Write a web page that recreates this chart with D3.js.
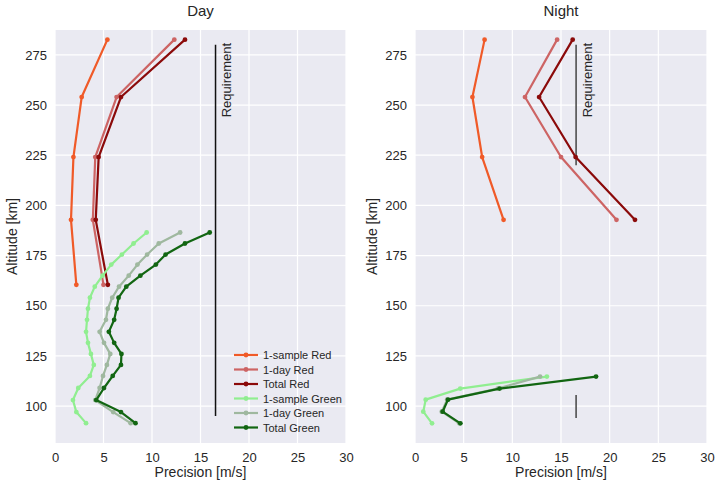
<!DOCTYPE html>
<html>
<head>
<meta charset="utf-8">
<script src="https://cdn.jsdelivr.net/npm/d3@7"></script>
<style>
  body { margin: 0; background: #ffffff; }
  svg { display: block; font-family: "Liberation Sans", Arial, sans-serif; }
</style>
</head>
<body>
<div id="chart"></div>
<script>
// ---------------- data ----------------
const panels = ["Day", "Night"];
const seriesNames = ["1-sample Red", "1-day Red", "Total Red", "1-sample Green", "1-day Green", "Total Green"];
const seriesColors = ["#f05a28", "#cd6464", "#8b0a0a", "#90ee90", "#9fb89f", "#126612"];

// altitudes [km]
const redAlt = [160.4, 192.8, 224.1, 254.0, 282.6];
const greenAltDay = [91.5, 97, 103, 109, 115, 120.5, 126, 131.5, 137, 143, 148.5, 154, 159.5, 165, 170.5, 175.5, 181, 186.5];
const greenAltNight = [91.4, 97.2, 103.2, 108.7, 114.7];

// Day precision [m/s]
const day1SampleRed = [2.2, 1.65, 1.9, 2.75, 5.4];
const day1DayRed = [5.0, 3.9, 4.15, 6.35, 12.3];
const dayTotalRed = [5.45, 4.2, 4.5, 6.8, 13.4];
const day1SampleGreen = [3.2, 2.2, 1.85, 2.4, 3.6, 4.0, 3.7, 3.4, 3.2, 3.3, 3.4, 3.6, 4.1, 4.9, 5.8, 6.9, 8.1, 9.45];
const day1DayGreen = [7.8, 6.0, 4.15, 4.6, 4.95, 5.35, 5.7, 5.05, 4.6, 5.25, 5.45, 5.9, 6.6, 7.6, 8.5, 9.5, 10.7, 12.9];
const dayTotalGreen = [8.3, 6.8, 4.25, 5.05, 5.95, 6.8, 6.85, 6.1, 5.55, 6.1, 6.35, 6.55, 7.35, 8.8, 10.4, 11.4, 13.4, 15.95];

// Night precision [m/s]
const nightRedAlt = [192.8, 224.1, 254.0, 282.6];
const night1SampleRed = [9.1, 6.9, 5.9, 7.15];
const night1DayRed = [20.7, 15.0, 11.3, 14.6];
const nightTotalRed = [22.6, 16.5, 12.75, 16.2];
const night1SampleGreen = [1.75, 0.85, 1.1, 4.65, 13.55];
const night1DayGreen = [4.55, 2.75, 3.3, 8.5, 12.85];
const nightTotalGreen = [4.66, 2.84, 3.39, 8.69, 18.6];

// Requirement
const requirementValue = 16.55;
const dayRequirementSpans = [[95, 280]];
const nightRequirementSpans = [[220, 280], [94, 105.5]];

const xTicks = [0, 5, 10, 15, 20, 25, 30];
const yTicks = [100, 125, 150, 175, 200, 225, 250, 275];

// ---------------- layout ----------------
const W = 717, H = 487;
const svg = d3.select("#chart").append("svg").attr("width", W).attr("height", H);

const panelBoxes = [
  { left: 55, right: 346, top: 30, bottom: 443 },
  { left: 415, right: 707, top: 30, bottom: 443 }
];

function zipSeries(vals, alts) { return vals.map((v, i) => ({ v: v, a: alts[i] })); }

const panelSeries = [
  [
    zipSeries(day1SampleRed, redAlt), zipSeries(day1DayRed, redAlt), zipSeries(dayTotalRed, redAlt),
    zipSeries(day1SampleGreen, greenAltDay), zipSeries(day1DayGreen, greenAltDay), zipSeries(dayTotalGreen, greenAltDay)
  ],
  [
    zipSeries(night1SampleRed, nightRedAlt), zipSeries(night1DayRed, nightRedAlt), zipSeries(nightTotalRed, nightRedAlt),
    zipSeries(night1SampleGreen, greenAltNight), zipSeries(night1DayGreen, greenAltNight), zipSeries(nightTotalGreen, greenAltNight)
  ]
];
const reqSpans = [dayRequirementSpans, nightRequirementSpans];
const reqColors = ["#111111", "#444444"];

panels.forEach((title, pi) => {
  const b = panelBoxes[pi];
  const x = d3.scaleLinear().domain([0, 30]).range([b.left, b.right]);
  const y = d3.scaleLinear().domain([81.6, 287.4]).range([b.bottom, b.top]);
  const g = svg.append("g");

  g.append("rect").attr("x", b.left).attr("y", b.top)
    .attr("width", b.right - b.left).attr("height", b.bottom - b.top)
    .attr("fill", "#eaeaf2");

  // grid
  g.selectAll(".gx").data(xTicks).enter().append("line")
    .attr("x1", d => x(d)).attr("x2", d => x(d))
    .attr("y1", b.top).attr("y2", b.bottom)
    .attr("stroke", "#ffffff").attr("stroke-width", 1.2);
  g.selectAll(".gy").data(yTicks).enter().append("line")
    .attr("y1", d => y(d)).attr("y2", d => y(d))
    .attr("x1", b.left).attr("x2", b.right)
    .attr("stroke", "#ffffff").attr("stroke-width", 1.2);

  // axes (labels only)
  const xAxis = d3.axisBottom(x).tickValues(xTicks).tickSize(0).tickPadding(10);
  const ax = g.append("g").attr("transform", `translate(0,${b.bottom})`).call(xAxis);
  ax.select(".domain").remove();
  ax.selectAll("text").attr("font-size", 13).attr("fill", "#262626")
    .attr("font-family", "Liberation Sans, Arial, sans-serif");

  const yAxis = d3.axisLeft(y).tickValues(yTicks).tickSize(0).tickPadding(8);
  const ay = g.append("g").attr("transform", `translate(${b.left},0)`).call(yAxis);
  ay.select(".domain").remove();
  ay.selectAll("text").attr("font-size", 13).attr("fill", "#262626")
    .attr("font-family", "Liberation Sans, Arial, sans-serif");

  // titles & axis labels
  const cx = (b.left + b.right) / 2, cy = (b.top + b.bottom) / 2;
  g.append("text").attr("x", cx).attr("y", 16).attr("text-anchor", "middle")
    .attr("font-size", 15).attr("fill", "#262626").text(title);
  g.append("text").attr("x", cx).attr("y", 477).attr("text-anchor", "middle")
    .attr("font-size", 14).attr("fill", "#262626").text("Precision [m/s]");
  g.append("text").attr("transform", `translate(${b.left - 38},${cy}) rotate(-90)`)
    .attr("text-anchor", "middle").attr("font-size", 14).attr("fill", "#262626")
    .text("Altitude [km]");

  // requirement
  reqSpans[pi].forEach(s => {
    g.append("line").attr("x1", x(requirementValue)).attr("x2", x(requirementValue))
      .attr("y1", y(s[0])).attr("y2", y(s[1]))
      .attr("stroke", reqColors[pi]).attr("stroke-width", 1.5);
  });
  g.append("text")
    .attr("transform", `translate(${x(requirementValue) + 15.5},${y(281)}) rotate(-90)`)
    .attr("text-anchor", "end").attr("font-size", 13).attr("fill", "#262626")
    .text("Requirement");

  // series
  const line = d3.line().x(d => x(d.v)).y(d => y(d.a));
  panelSeries[pi].forEach((data, si) => {
    g.append("path").datum(data).attr("d", line)
      .attr("fill", "none").attr("stroke", seriesColors[si]).attr("stroke-width", 2.2)
      .attr("stroke-linejoin", "round");
    g.selectAll(null).data(data).enter().append("circle")
      .attr("cx", d => x(d.v)).attr("cy", d => y(d.a)).attr("r", 2.4)
      .attr("fill", seriesColors[si]);
  });

  // legend (Day panel only)
  if (pi === 0) {
    const lg = g.append("g");
    const rowY = [355, 369.5, 384, 398.5, 413, 427.5];
    seriesNames.forEach((name, i) => {
      lg.append("line").attr("x1", 234).attr("x2", 258).attr("y1", rowY[i]).attr("y2", rowY[i])
        .attr("stroke", seriesColors[i]).attr("stroke-width", 2.2);
      lg.append("circle").attr("cx", 246).attr("cy", rowY[i]).attr("r", 2.4).attr("fill", seriesColors[i]);
      lg.append("text").attr("x", 263).attr("y", rowY[i] + 4).attr("font-size", 11)
        .attr("fill", "#262626").text(name);
    });
  }
});
</script>
</body>
</html>
